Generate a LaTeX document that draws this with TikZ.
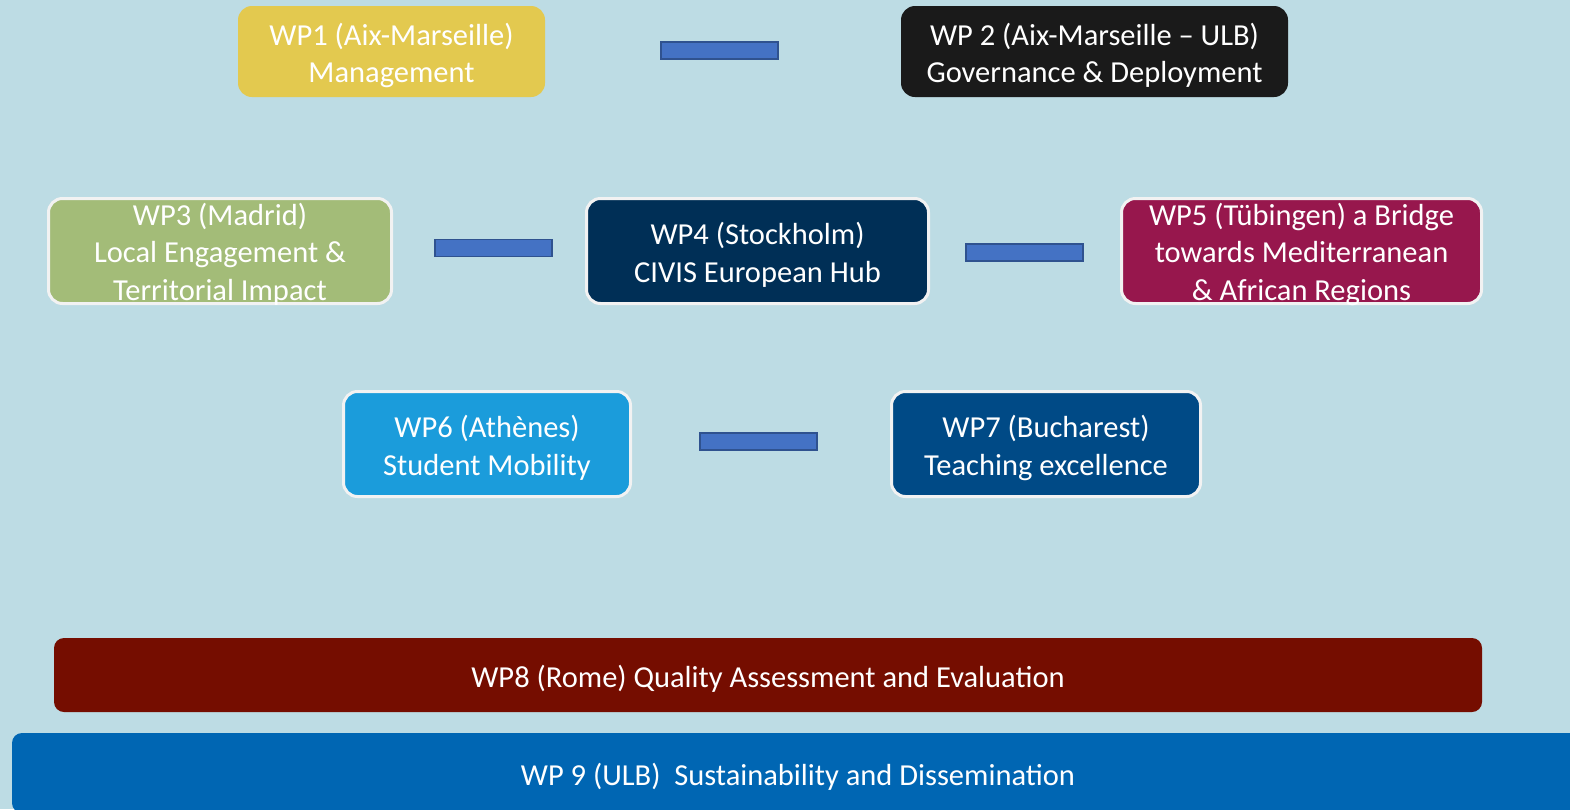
\documentclass[tikz,border=0pt]{standalone}
\usepackage{fontspec}
\setmainfont{Carlito}
\definecolor{bgc}{HTML}{BDDCE4}
\definecolor{wpone}{HTML}{E3C94F}
\definecolor{wptwo}{HTML}{1A1A1A}
\definecolor{wpthree}{HTML}{A3BC78}
\definecolor{wpfour}{HTML}{002F56}
\definecolor{wpfive}{HTML}{97174D}
\definecolor{wpsix}{HTML}{1B9CDB}
\definecolor{wpseven}{HTML}{004A86}
\definecolor{wpeight}{HTML}{750D00}
\definecolor{wpnine}{HTML}{0066B3}
\definecolor{barfill}{HTML}{4472C4}
\definecolor{barline}{HTML}{2F528F}
\definecolor{rimc}{HTML}{F2F2F2}
\tikzset{
  wpbox/.style={rectangle, rounded corners=14pt, text=white, align=center,
    inner sep=0pt, outer sep=0pt, font=\fontsize{30.5}{37.5}\selectfont},
  oneline/.style={text height=30pt},
  twoline/.style={text height=67.5pt},
  threeline/.style={text height=98pt, text depth=0pt},
  rim/.style={draw=rimc, line width=3pt},
  barbox/.style={rectangle, fill=barfill, draw=barline, line width=1.2pt,
    minimum width=117pt, minimum height=17pt, inner sep=0pt, outer sep=0pt},
}
\begin{document}
\begin{tikzpicture}[x=1pt,y=-1pt]
\fill[bgc] (0,0) rectangle (1570,809);
\useasboundingbox (0,0) rectangle (1570,809);
% top row
\node[wpbox, twoline, fill=wpone, minimum width=307pt, minimum height=91pt] (wp1) at (391.5,51.5)
  {WP1 (Aix-Marseille)\\Management};
\node[wpbox, twoline, fill=wptwo, minimum width=387pt, minimum height=91pt] (wp2) at (1094.5,51.5)
  {WP 2 (Aix-Marseille -- ULB)\\Governance \& Deployment};
\node[barbox] (b12) at (719.5,50.5) {};
% middle row
\node[wpbox, threeline, rim, fill=wpthree, minimum width=343pt, minimum height=105pt] (wp3) at (220,251)
  {WP3 (Madrid)\\Local Engagement \&\\Territorial Impact};
\node[wpbox, twoline, rim, fill=wpfour, minimum width=342pt, minimum height=105pt] (wp4) at (757.5,251)
  {WP4 (Stockholm)\\CIVIS European Hub};
\node[wpbox, threeline, rim, fill=wpfive, minimum width=360pt, minimum height=105pt] (wp5) at (1301.5,251)
  {WP5 (Tübingen) a Bridge\\towards Mediterranean\\\& African Regions};
\node[barbox] (b34) at (493.5,248) {};
\node[barbox] (b45) at (1024.5,252.5) {};
% third row
\node[wpbox, twoline, rim, fill=wpsix, minimum width=287pt, minimum height=105pt] (wp6) at (487,444)
  {WP6 (Athènes)\\Student Mobility};
\node[wpbox, twoline, rim, fill=wpseven, minimum width=309pt, minimum height=105pt] (wp7) at (1046,444)
  {WP7 (Bucharest)\\Teaching excellence};
\node[barbox] (b67) at (758.5,441.5) {};
% bottom bars
\node[wpbox, oneline, rounded corners=10pt, fill=wpeight, minimum width=1428pt, minimum height=74pt] (wp8) at (768,675)
  {WP8 (Rome) Quality Assessment and Evaluation};
\node[wpbox, oneline, rounded corners=10pt, fill=wpnine, minimum width=1572pt, minimum height=80pt] (wp9) at (798,773)
  {WP 9 (ULB)\ \ Sustainability and Dissemination};
\end{tikzpicture}
\end{document}
